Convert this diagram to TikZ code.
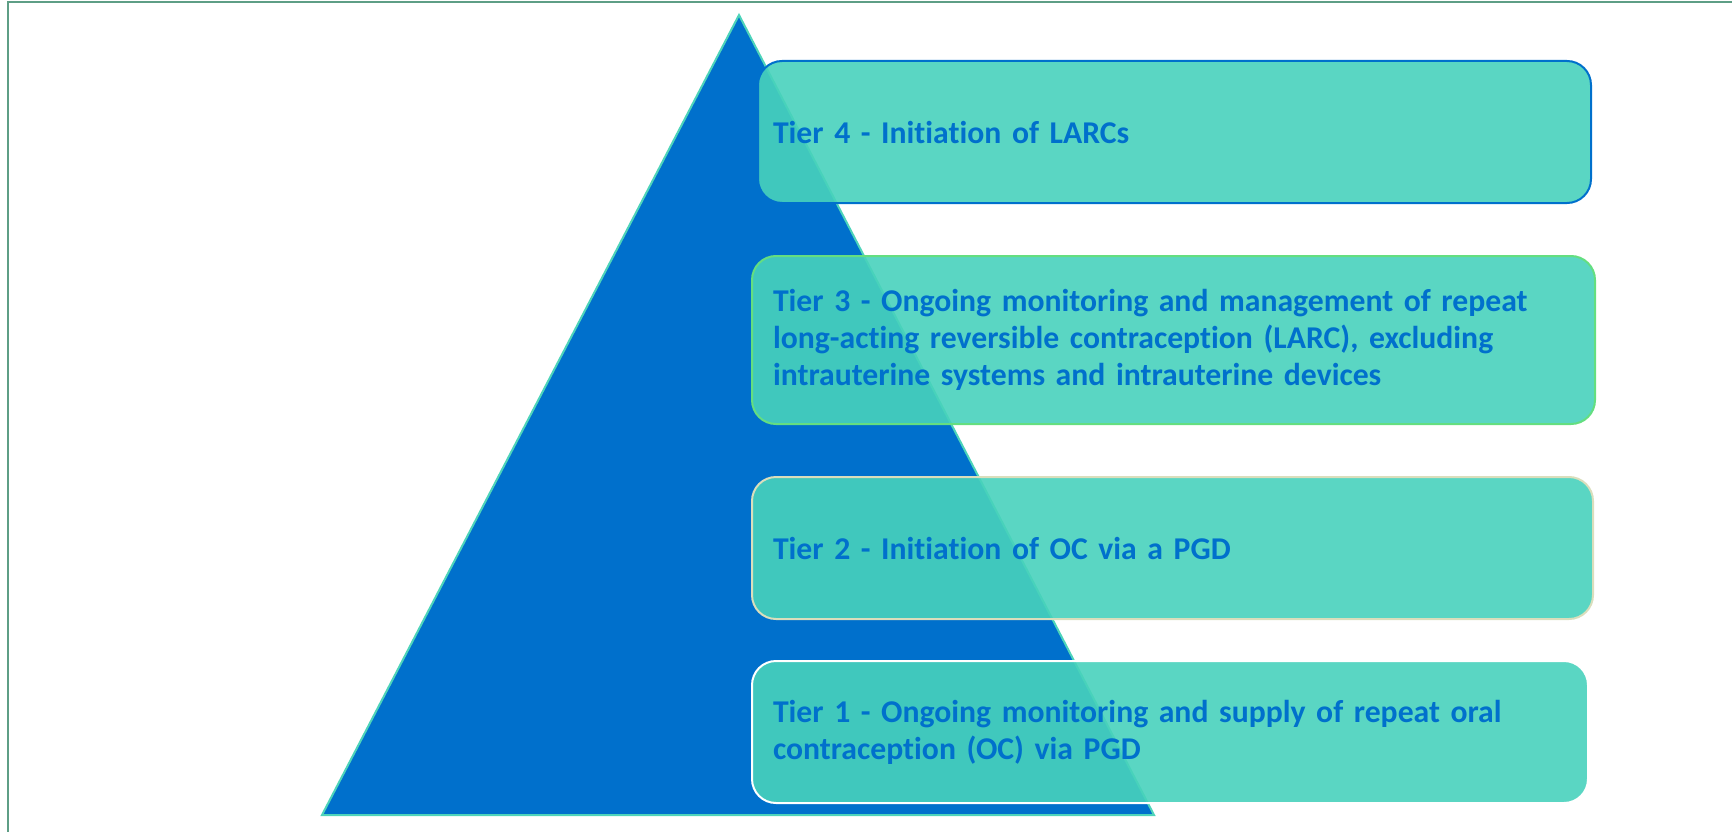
\documentclass[tikz,border=0pt]{standalone}
\usepackage{fontspec}
\setmainfont{Carlito}[Ligatures=NoCommon]
\usepackage{tikz}

\definecolor{framegreen}{RGB}{94,158,134}
\definecolor{pyrblue}{RGB}{0,112,204}
\definecolor{pyredge}{RGB}{78,212,186}
\definecolor{tierfill}{RGB}{72,210,188}
\definecolor{tiergreen}{RGB}{100,222,128}
\definecolor{tierbeige}{RGB}{218,222,188}

\tikzset{
  tierbox/.style={rounded corners=24pt, fill=tierfill, fill opacity=0.9,
    text opacity=1, line width=2pt, text=pyrblue, align=left,
    font=\bfseries\fontsize{31.7}{37}\selectfont,
    anchor=north west, inner xsep=21pt, inner ysep=0pt}
}

\begin{document}
\begin{tikzpicture}[x=1pt,y=-1pt]
  \useasboundingbox (0,0) rectangle (1732,832);

  % ---- outer frame (only top and left show) -------
  \draw[framegreen, line width=2.7pt] (8,2) rectangle (1745,845);

  % ---- pyramid ------------------------------------
  \filldraw[fill=pyrblue, draw=pyredge, line width=2pt]
    (739,15) -- (1154,815) -- (322,815) -- cycle;

  % ---- tiers, top to bottom -----------------------
  \node[tierbox, draw=pyrblue, inner xsep=15pt, text width=803pt,
    minimum height=142pt] (tier4) at (757,60)
    {Tier 4 - Initiation of LARCs};
  \node[tierbox, draw=tiergreen, text width=801pt,
    minimum height=168pt] (tier3) at (751,255)
    {Tier 3 - Ongoing monitoring and management of repeat\\
     long-acting reversible contraception (LARC), excluding\\
     intrauterine systems and intrauterine devices};
  \node[tierbox, draw=tierbeige, text width=799pt,
    minimum height=142pt] (tier2) at (751,476)
    {Tier 2 - Initiation of OC via a PGD};
  \node[tierbox, draw=white, text width=794pt,
    minimum height=142pt] (tier1) at (751,660)
    {Tier 1 - Ongoing monitoring and supply of repeat oral\\
     contraception (OC) via PGD};
\end{tikzpicture}
\end{document}
